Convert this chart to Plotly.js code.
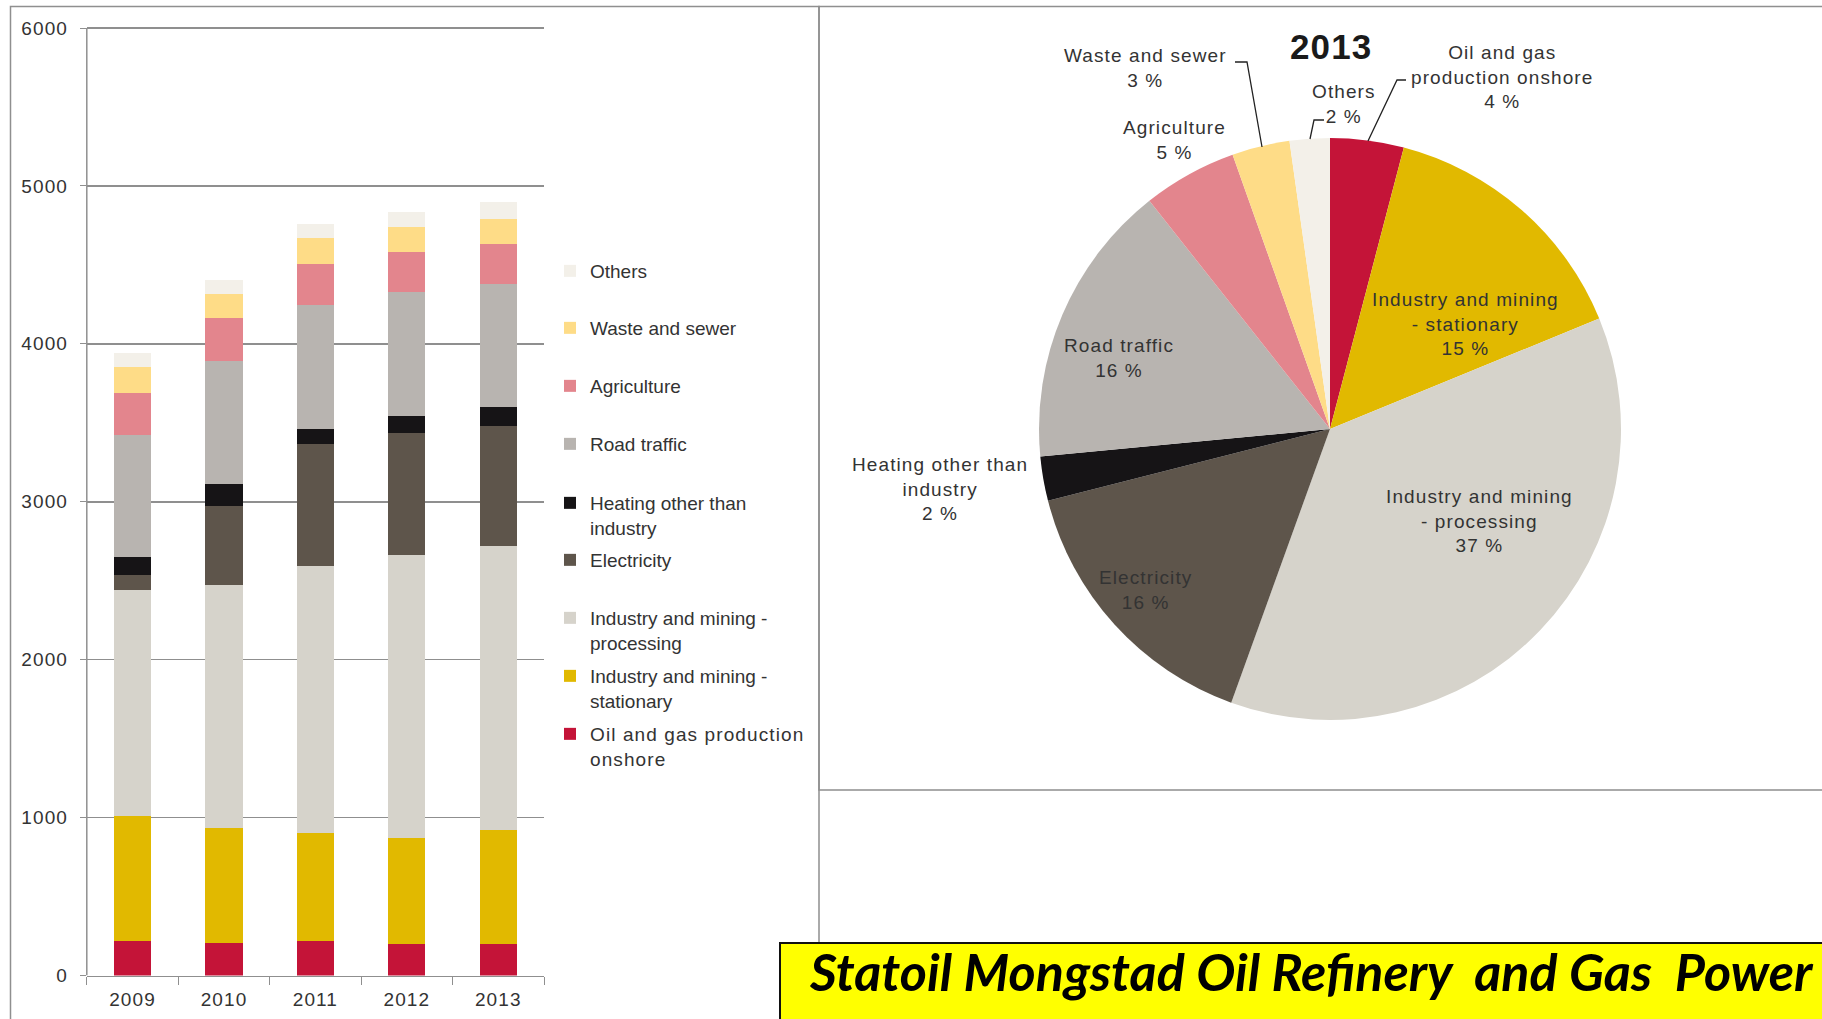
<!DOCTYPE html>
<html><head><meta charset="utf-8">
<script src="https://cdn.plot.ly/plotly-3.0.1.min.js"></script>
<style>
html,body{margin:0;padding:0;background:#fff;overflow:hidden}
#chart{width:1822px;height:1019px}
.xtick text, .ytick text, text.legendtext, text.annotation-text{letter-spacing:1.1px}
</style>
</head><body><div id="chart"></div>
<script>
// ---------- data ----------
const years = ['2009', '2010', '2011', '2012', '2013'];
const categories = ['Oil and gas production onshore', 'Industry and mining - stationary', 'Industry and mining - processing', 'Electricity', 'Heating other than industry', 'Road traffic', 'Agriculture', 'Waste and sewer', 'Others'];
const legendNames = ['Oil and gas production<br>onshore', 'Industry and mining -<br>stationary', 'Industry and mining -<br>processing', 'Electricity', 'Heating other than<br>industry', 'Road traffic', 'Agriculture', 'Waste and sewer', 'Others'];
const pieNames = ['Oil and gas<br>production onshore', 'Industry and mining<br>- stationary', 'Industry and mining<br>- processing', 'Electricity', 'Heating other than<br>industry', 'Road traffic', 'Agriculture', 'Waste and sewer', 'Others'];
const oilGas        = [220, 208, 219, 200, 200];
const indStationary = [790, 724, 683, 671, 721];
const indProcessing = [1434, 1543, 1688, 1789, 1798];
const electricity   = [90, 499, 774, 773, 760];
const heating       = [115, 136, 99, 108, 121];
const roadTraffic   = [774, 784, 786, 785, 776];
const agriculture   = [266, 267, 254, 255, 256];
const wasteSewer    = [167, 156, 167, 157, 157];
const others        = [89, 89, 87, 99, 109];
const pieYear = '2013';
const yTicks = [0, 1000, 2000, 3000, 4000, 5000, 6000];
const bannerLines = ['Statoil Mongstad Oil Refinery\u00a0\u00a0and Gas\u00a0\u00a0Power', 'Plant'];

// ---------- style ----------
const series = [oilGas, indStationary, indProcessing, electricity, heating, roadTraffic, agriculture, wasteSewer, others];
const colors = ['#C41438', '#E1B900', '#D6D3CB', '#5E554B', '#161416', '#B8B4B0', '#E3858D', '#FEDC87', '#F3F0E9'];
const W = 1822, H = 1019;
const px = x => x / W;
const py = y => 1 - y / H;
const FONT = 'Arial, "Liberation Sans", sans-serif';
const TXT = '#333333';
const GRAY = '#8f8f8f';

// y axis: 0 at 975.5 px, 6000 at 28 px -> extend range a little so the 6000 grid line is drawn
const yPerUnit = (975.5 - 28) / 6000;
const yMax = 6050;

// legend first-line centre (px) for each series
const legendY = [729, 671, 613, 555, 498, 439, 381, 323, 266];

const traces = [];
const layout = {
  width: W, height: H,
  margin: {l: 0, r: 0, t: 0, b: 0},
  paper_bgcolor: '#ffffff', plot_bgcolor: 'rgba(0,0,0,0)',
  font: {family: FONT, color: TXT, size: 19},
  barmode: 'stack', bargap: 0.594,
  xaxis: {
    domain: [px(86.8), px(544)], type: 'category', categoryorder: 'array', categoryarray: years,
    showline: true, linecolor: GRAY, linewidth: 1.5, ticks: 'outside', ticklen: 8, tickcolor: GRAY,
    tickson: 'boundaries', showgrid: false, zeroline: false, ticklabelstandoff: 6,
    tickfont: {size: 19, color: TXT, family: FONT}, fixedrange: true
  },
  yaxis: {
    domain: [py(975.5), py(975.5 - yMax * yPerUnit)], range: [0, yMax], tickvals: yTicks,
    showline: false, ticks: 'outside', ticklen: 6, tickcolor: GRAY,
    showgrid: true, gridcolor: GRAY, gridwidth: 1.5, zeroline: false,
    ticklabelstandoff: 8,
    tickfont: {size: 19, color: TXT, family: FONT}, fixedrange: true
  },
  shapes: [],
  annotations: []
};

series.forEach((vals, i) => {
  const lg = i === 0 ? 'legend' : 'legend' + (i + 1);
  traces.push({
    type: 'bar', x: years, y: vals, name: legendNames[i],
    marker: {color: colors[i], line: {width: 0}},
    legend: lg, showlegend: true, hoverinfo: 'name+y'
  });
  layout[lg] = {
    x: px(550), xanchor: 'left', y: py(legendY[i] - 14), yanchor: 'top',
    valign: 'top', bgcolor: 'rgba(0,0,0,0)', borderwidth: 0,
    font: {family: FONT, size: 19, color: TXT}
  };
});

// y axis line from 0 to 6000 only (as in the reference)
layout.shapes.push({type: 'line', xref: 'paper', yref: 'y', x0: px(86.8), x1: px(86.8), y0: 0, y1: 6000, line: {color: GRAY, width: 1.5}});

// pie for the last year
const yi = years.indexOf(pieYear);
const pieVals = series.map(s => s[yi]);
const total = pieVals.reduce((a, b) => a + b, 0);
traces.push({
  type: 'pie', labels: categories, values: pieVals, sort: false,
  direction: 'clockwise', rotation: 0,
  marker: {colors: colors, line: {width: 0}},
  textinfo: 'none', showlegend: false,
  domain: {x: [px(1330 - 291), px(1330 + 291)], y: [py(429 + 291), py(429 - 291)]}
});

// pie label positions (px, block centre)
const pieLabelPos = [[1502, 77], [1465, 324], [1479, 521], [1145, 590], [940, 489], [1119, 358], [1174, 140], [1145, 68], [1344, 104]];
pieVals.forEach((v, i) => {
  layout.annotations.push({
    xref: 'paper', yref: 'paper', x: px(pieLabelPos[i][0]), y: py(pieLabelPos[i][1]),
    xanchor: 'center', yanchor: 'middle', showarrow: false, align: 'center',
    text: pieNames[i] + '<br>' + Math.round(v / total * 100) + '\u00a0%',
    font: {family: FONT, size: 19, color: TXT}
  });
});
// pie title
layout.annotations.push({
  xref: 'paper', yref: 'paper', x: px(1331), y: py(46.5), xanchor: 'center', yanchor: 'middle',
  showarrow: false, text: '<b>' + pieYear + '</b>', font: {family: FONT, size: 35, color: '#1a1a1a'}
});
// leader lines
const leaders = [
  [[1406, 80], [1397, 80], [1368, 141]],
  [[1324, 120], [1314, 120], [1310, 139]],
  [[1235, 62], [1247, 62], [1262, 147]]
];
leaders.forEach(pts => {
  layout.shapes.push({
    type: 'path', xref: 'paper', yref: 'paper',
    path: 'M' + pts.map(p => px(p[0]) + ',' + py(p[1])).join(' L'),
    line: {color: '#222', width: 1.3}
  });
});
// frames
layout.shapes.push({type: 'rect', xref: 'paper', yref: 'paper', x0: px(10.5), x1: px(819), y0: py(6.5), y1: py(1040), line: {color: GRAY, width: 1.5}, fillcolor: 'rgba(0,0,0,0)', layer: 'below'});
layout.shapes.push({type: 'rect', xref: 'paper', yref: 'paper', x0: px(819), x1: px(1840), y0: py(6.5), y1: py(790), line: {color: GRAY, width: 1.5}, fillcolor: 'rgba(0,0,0,0)', layer: 'below'});
// yellow banner
layout.shapes.push({type: 'rect', xref: 'paper', yref: 'paper', x0: px(780), x1: px(1850), y0: py(943), y1: py(1060), line: {color: '#111', width: 2}, fillcolor: '#FFFF00'});
layout.annotations.push({
  xref: 'paper', yref: 'paper', x: px(1311), y: py(938), xanchor: 'center', yanchor: 'top',
  showarrow: false, align: 'center',
  text: bannerLines.map(s => '<span style="letter-spacing:0px">' + s + '</span>').join('<br>'),
  font: {family: 'Lato, "Open Sans", sans-serif', size: 52, color: '#000', weight: 'bold', style: 'italic'}
});

Plotly.newPlot('chart', traces, layout, {displayModeBar: false, staticPlot: true});
</script>
</body></html>
